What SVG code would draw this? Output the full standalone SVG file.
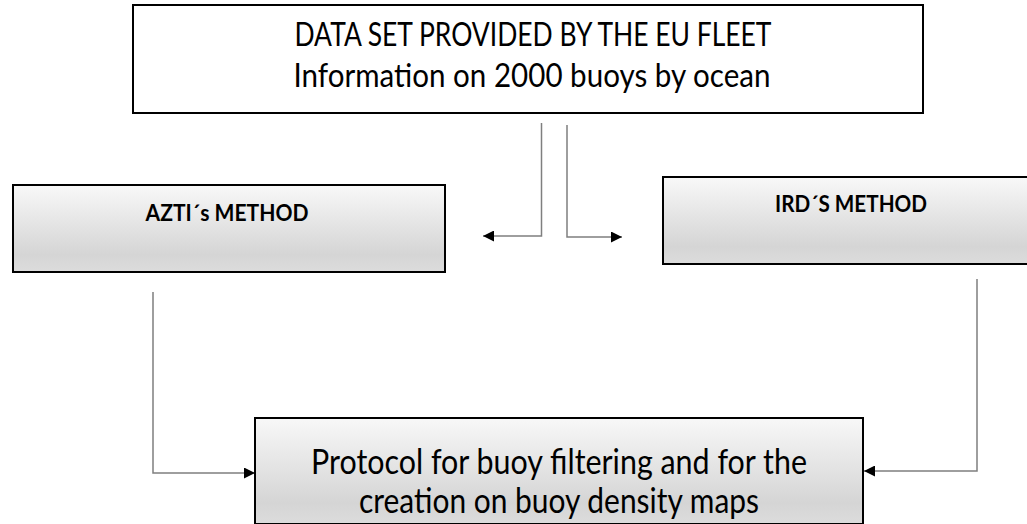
<svg xmlns="http://www.w3.org/2000/svg" width="1027" height="524" viewBox="0 0 1027 524">
  <style>
    .box { stroke: #000; stroke-width: 2; }
    .plain { fill: #fff; }
    .grad { fill: url(#g); }
    .conn { fill: none; stroke: #7f7f7f; stroke-width: 1.5; }
    .t { font-family: Lato, "Open Sans", sans-serif; fill: #000; text-anchor: middle; }
    .top { font-size: 32px; }
    .bot { font-size: 34px; }
    .lab { font-size: 22px; font-weight: bold; }
  </style>
  <defs>
    <linearGradient id="g" x1="0" y1="0" x2="0" y2="1">
      <stop offset="0" stop-color="#f8f8f8"/>
      <stop offset="0.8" stop-color="#d5d5d5"/>
      <stop offset="1" stop-color="#dcdcdc"/>
    </linearGradient>
    <marker id="ah" viewBox="0 0 10 10" refX="10" refY="5" markerWidth="12" markerHeight="11" markerUnits="userSpaceOnUse" orient="auto">
      <path d="M0,0 L10,5 L0,10 Z" fill="#000"/>
    </marker>
  </defs>

  <g id="connectors">
    <polyline class="conn" points="541.5,123 541.5,236 483,236" marker-end="url(#ah)"/>
    <polyline class="conn" points="567,125 567,237 622,237" marker-end="url(#ah)"/>
    <polyline class="conn" points="153,292 153,473 255,473" marker-end="url(#ah)"/>
    <polyline class="conn" points="977,279 977,471 864,471" marker-end="url(#ah)"/>
  </g>

  <g id="node-dataset">
    <rect class="box plain" x="133" y="5" width="790" height="108"/>
    <text class="t top" x="533" y="46" textLength="477" lengthAdjust="spacingAndGlyphs">DATA SET PROVIDED BY THE EU FLEET</text>
    <text class="t top" x="532" y="87" textLength="477" lengthAdjust="spacingAndGlyphs">Information on 2000 buoys by ocean</text>
  </g>

  <g id="node-azti">
    <rect class="box grad" x="13" y="185" width="432" height="87"/>
    <text class="t lab" x="227" y="221" textLength="163" lengthAdjust="spacingAndGlyphs">AZTI´s METHOD</text>
  </g>

  <g id="node-ird">
    <rect class="box grad" x="663" y="177" width="400" height="87"/>
    <text class="t lab" x="851" y="212" textLength="152" lengthAdjust="spacingAndGlyphs">IRD´S METHOD</text>
  </g>

  <g id="node-protocol">
    <rect class="box grad" x="255" y="418" width="608" height="106"/>
    <text class="t bot" x="559" y="474" textLength="496" lengthAdjust="spacingAndGlyphs">Protocol for buoy filtering and for the</text>
    <text class="t bot" x="559" y="513" textLength="400" lengthAdjust="spacingAndGlyphs">creation on buoy density maps</text>
  </g>
</svg>
